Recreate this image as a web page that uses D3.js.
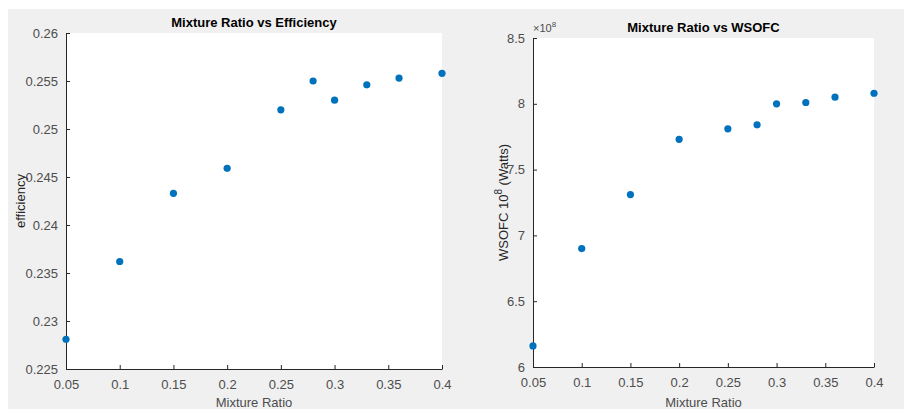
<!DOCTYPE html>
<html>
<head>
<meta charset="utf-8">
<style>
  body { margin: 0; background: #fff; }
  svg text { font-family: "Liberation Sans", Arial, sans-serif; }
</style>
</head>
<body>
<svg width="904" height="409"></svg>
<script src="https://cdn.jsdelivr.net/npm/d3@7/dist/d3.min.js"></script>
<script>
// data
var mixtureRatio = [0.05, 0.1, 0.15, 0.2, 0.25, 0.28, 0.3, 0.33, 0.36, 0.4];
var efficiency = [0.2281, 0.2362, 0.2433, 0.2459, 0.2520, 0.2550, 0.2530, 0.2546, 0.2553, 0.2558];
var wsofc = [6.16, 6.90, 7.31, 7.73, 7.81, 7.84, 8.00, 8.01, 8.05, 8.08]; // x 10^8 W
var xTicks = [0.05, 0.1, 0.15, 0.2, 0.25, 0.3, 0.35, 0.4];
var effTicks = [0.225, 0.23, 0.235, 0.24, 0.245, 0.25, 0.255, 0.26];
var wsofcTicks = [6, 6.5, 7, 7.5, 8, 8.5];

var svg = d3.select("svg");
var axisCol = "#262626", tickCol = "#4d4d4d", dotCol = "#0072BD";

svg.append("rect").attr("x", 8).attr("y", 9).attr("width", 896).attr("height", 400).attr("fill", "#f0f0f0");

function drawPlot(opt) {
    var x = d3.scaleLinear().domain([0.05, 0.4]).range([opt.left, opt.right]);
    var y = d3.scaleLinear().domain(opt.yDomain).range([opt.bottom, opt.top]);
    var g = svg.append("g");

    g.append("rect")
        .attr("x", opt.left).attr("y", opt.top)
        .attr("width", opt.right - opt.left).attr("height", opt.bottom - opt.top)
        .attr("fill", "#fff");

    var xAxis = g.append("g")
        .attr("transform", "translate(0," + opt.bottom + ")")
        .call(d3.axisBottom(x).tickValues(xTicks).tickSizeInner(-4).tickSizeOuter(0).tickPadding(11)
            .tickFormat(d => String(+d.toFixed(2))));
    var yAxis = g.append("g")
        .attr("transform", "translate(" + opt.left + ",0)")
        .call(d3.axisLeft(y).tickValues(opt.yTicks).tickSizeInner(-4).tickSizeOuter(0).tickPadding(8)
            .tickFormat(opt.yFormat));

    [xAxis, yAxis].forEach(a => {
        a.select(".domain").attr("stroke", axisCol);
        a.selectAll(".tick line").attr("stroke", axisCol);
        a.selectAll(".tick text").attr("fill", tickCol).attr("font-size", 13)
            .attr("font-family", "Liberation Sans, Arial, sans-serif");
    });

    g.selectAll("circle").data(mixtureRatio).enter().append("circle")
        .attr("cx", d => x(d))
        .attr("cy", (d, i) => y(opt.values[i]))
        .attr("r", 3.6)
        .attr("fill", dotCol);

    g.append("text")
        .attr("x", (opt.left + opt.right) / 2).attr("y", opt.titleY)
        .attr("text-anchor", "middle").attr("font-size", 13).attr("font-weight", "bold")
        .attr("fill", "#000").text(opt.title);

    g.append("text")
        .attr("x", (opt.left + opt.right) / 2).attr("y", 407)
        .attr("text-anchor", "middle").attr("font-size", 13)
        .attr("fill", tickCol).text("Mixture Ratio");

    var yl = g.append("text")
        .attr("transform", "translate(" + opt.yLabelX + "," + (opt.top + opt.bottom) / 2 + ") rotate(-90)")
        .attr("text-anchor", "middle").attr("font-size", 13).attr("fill", axisCol);
    opt.yLabel(yl);
    return g;
}

drawPlot({
    left: 66, right: 442, top: 33, bottom: 369,
    yDomain: [0.225, 0.26], yTicks: effTicks, values: efficiency,
    yFormat: d => String(+d.toFixed(3)),
    title: "Mixture Ratio vs Efficiency", titleY: 27,
    yLabelX: 25,
    yLabel: t => t.text("efficiency")
});

var g2 = drawPlot({
    left: 533, right: 874, top: 38, bottom: 367,
    yDomain: [6, 8.5], yTicks: wsofcTicks, values: wsofc,
    yFormat: d => String(d),
    title: "Mixture Ratio vs WSOFC", titleY: 32,
    yLabelX: 508,
    yLabel: t => {
        t.append("tspan").text("WSOFC 10");
        t.append("tspan").attr("dy", -6).attr("font-size", 10).text("8");
        t.append("tspan").attr("dy", 6).text(" (Watts)");
    }
});

var ex = g2.append("text").attr("x", 533).attr("y", 32).attr("font-size", 11).attr("fill", tickCol);
ex.append("tspan").text("\u00d710");
ex.append("tspan").attr("dy", -5).attr("font-size", 8).text("8");
</script>
</body>
</html>
